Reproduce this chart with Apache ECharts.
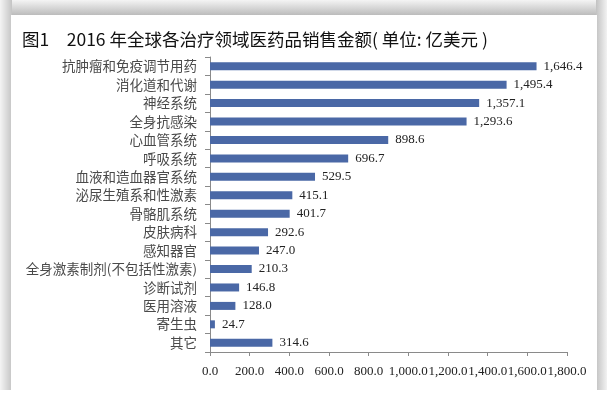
<!DOCTYPE html>
<html lang="zh">
  <head>
    <meta charset="UTF-8" />
    <title>2016年全球各治疗领域医药品销售金额</title>
    <style>
      * { margin: 0; padding: 0; }
      #main { width: 607px; height: 396px; }
    </style>
  </head>
  <body>
    <div id="main"></div>
    <script src="https://cdn.jsdelivr.net/npm/echarts@6/dist/echarts.min.js"></script>
    <script>
      // therapy areas, top to bottom as in the picture
      var areas = [
        "抗肿瘤和免疫调节用药",
        "消化道和代谢",
        "神经系统",
        "全身抗感染",
        "心血管系统",
        "呼吸系统",
        "血液和造血器官系统",
        "泌尿生殖系和性激素",
        "骨骼肌系统",
        "皮肤病科",
        "感知器官",
        "全身激素制剂(不包括性激素)",
        "诊断试剂",
        "医用溶液",
        "寄生虫",
        "其它"
      ];
      // sales, 100 million USD
      var sales = [1646.4, 1495.4, 1357.1, 1293.6, 898.6, 696.7, 529.5, 415.1,
                   401.7, 292.6, 247.0, 210.3, 146.8, 128.0, 24.7, 314.6];

      var fmt = function (v) {
        return Number(v).toLocaleString("en-US", { minimumFractionDigits: 1, maximumFractionDigits: 1 });
      };

      var chart = echarts.init(document.getElementById("main"));
      chart.setOption({
        backgroundColor: "#ffffff",
        animation: false,
        graphic: [
          // scanned page frame: grey edges and top shade
          { type: "rect", shape: { x: 0, y: 0, width: 607, height: 16 },
            style: { fill: new echarts.graphic.LinearGradient(0, 0, 0, 1, [
              { offset: 0, color: "#f4f4f4" }, { offset: 1, color: "#b8b8b8" }]) }, z: -9 },
          { type: "rect", shape: { x: 0, y: 0, width: 12, height: 390 },
            style: { fill: new echarts.graphic.LinearGradient(0, 0, 1, 0, [
              { offset: 0, color: "#f4f4f4" }, { offset: 1, color: "#c4c4c4" }]) }, z: -9 },
          { type: "rect", shape: { x: 596, y: 0, width: 11, height: 390 },
            style: { fill: new echarts.graphic.LinearGradient(0, 0, 1, 0, [
              { offset: 0, color: "#c2c2c2" }, { offset: 1, color: "#f2f2f2" }]) }, z: -9 },
          { type: "rect", shape: { x: 11, y: 15, width: 586, height: 381 }, style: { fill: "#ffffff" }, z: -8 },
          {
            type: "text", left: 22, top: 31,
            style: {
              text: "图1　2016 年全球各治疗领域医药品销售金额( 单位: 亿美元 )",
              font: "17.5px 'Noto Sans CJK SC'", fill: "#111"
            }
          }
        ],
        grid: { left: 210, right: 40, top: 57, bottom: 44 },
        xAxis: {
          type: "value",
          min: 0, max: 1800, interval: 200,
          splitLine: { show: false },
          axisLine: { show: true, lineStyle: { color: "#8a8a8a" } },
          axisTick: { show: true, length: 4, lineStyle: { color: "#8a8a8a" } },
          axisLabel: {
            margin: 13, color: "#222", fontFamily: "Liberation Serif", fontSize: 13,
            formatter: fmt
          }
        },
        yAxis: {
          type: "category",
          inverse: true,
          data: areas,
          axisLine: { show: true, lineStyle: { color: "#8a8a8a" } },
          axisTick: { show: true, length: 5, lineStyle: { color: "#8a8a8a" } },
          axisLabel: { margin: 13, color: "#4a4a4a", fontFamily: "Noto Sans CJK SC", fontSize: 13.5 }
        },
        series: [{
          type: "bar",
          data: sales,
          barWidth: 8,
          itemStyle: { color: "#4a68a6" },
          label: {
            show: true, position: "right", distance: 7,
            color: "#222", fontFamily: "Liberation Serif", fontSize: 13,
            formatter: function (p) { return fmt(p.value); }
          }
        }]
      });
    </script>
  </body>
</html>
